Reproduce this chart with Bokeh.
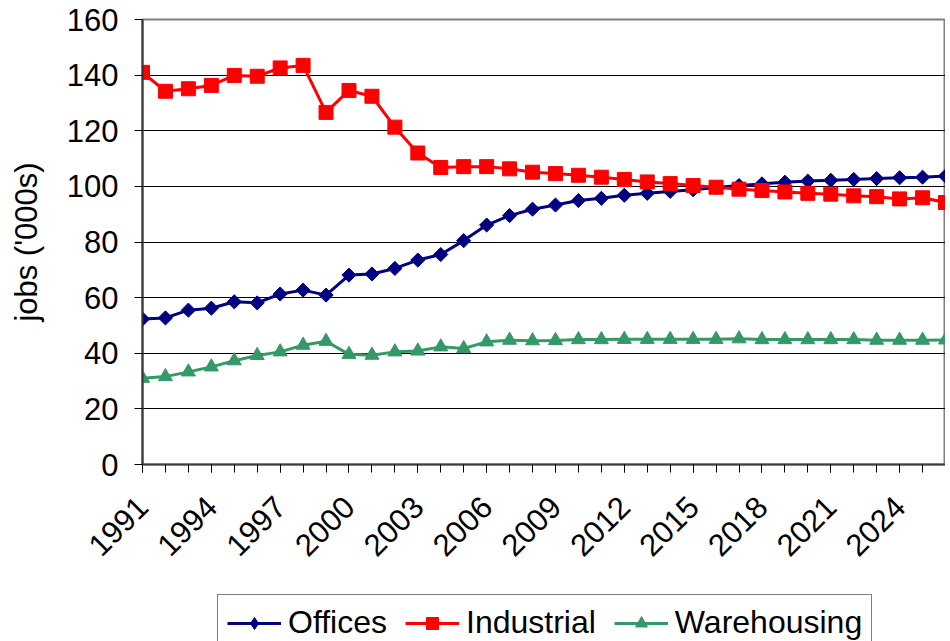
import math
from bokeh.plotting import figure
from bokeh.layouts import column
from bokeh.models import Range1d, FixedTicker, Legend, LegendItem
from bokeh.embed import file_html
from bokeh.resources import INLINE

years = list(range(1991, 2027))
tick_years = list(range(1991, 2027, 3))

offices = [52.3, 52.7, 55.5, 56.2, 58.5, 58.1, 61.3, 62.7, 60.9, 68.1, 68.5, 70.5,
           73.5, 75.5, 80.5, 86.1, 89.5, 91.8, 93.3, 94.9, 95.7, 96.8, 97.5, 98.2,
           98.8, 99.6, 100.3, 100.9, 101.5, 101.9, 102.2, 102.5, 102.8, 103.1, 103.3, 103.7]
industrial = [141.0, 134.2, 135.1, 136.3, 139.9, 139.6, 142.6, 143.5, 126.6, 134.5, 132.4, 121.3,
              112.0, 106.8, 107.1, 107.1, 106.3, 105.1, 104.6, 104.0, 103.3, 102.5, 101.6, 101.0,
              100.3, 99.7, 99.0, 98.5, 98.0, 97.5, 97.2, 96.6, 96.3, 95.5, 95.9, 94.2]
warehousing = [31.0, 31.6, 33.3, 35.1, 37.3, 39.2, 40.5, 42.9, 44.3, 39.6, 39.3, 40.5,
               40.8, 42.3, 41.7, 44.1, 44.7, 44.5, 44.6, 44.9, 44.9, 45.0, 45.0, 45.0,
               45.0, 45.0, 45.2, 44.9, 44.9, 44.9, 44.9, 44.9, 44.7, 44.7, 44.7, 44.8]
series_names = ["Offices", "Industrial", "Warehousing"]
series_values = [offices, industrial, warehousing]
series_colors = ["#000080", "#FF0000", "#339966"]

FONT = "Liberation Sans"

p = figure(width=945, height=594, output_backend="svg", toolbar_location=None,
           x_range=Range1d(1991, 2026), y_range=Range1d(0, 160),
           min_border_left=142, min_border_right=0, min_border_top=19, min_border_bottom=130)
p.background_fill_color = "white"
p.border_fill_color = "white"
p.outline_line_color = "#808080"
p.outline_line_width = 2

# axes
xa = p.xaxis[0]
xa.ticker = FixedTicker(ticks=tick_years, minor_ticks=years)
xa.major_label_orientation = math.pi / 4
xa.major_label_text_font = FONT
xa.major_label_text_font_size = "31px"
xa.major_label_text_color = "black"
xa.major_label_standoff = 29
xa.axis_line_color = "#404040"
xa.axis_line_width = 2
xa.major_tick_in = 0
xa.major_tick_out = 8
xa.minor_tick_in = 0
xa.minor_tick_out = 8
xa.major_tick_line_color = "black"
xa.minor_tick_line_color = "black"

ya = p.yaxis[0]
ya.ticker = FixedTicker(ticks=list(range(0, 161, 20)))
ya.axis_label = "jobs ('000s)"
ya.axis_label_text_font = FONT
ya.axis_label_text_font_size = "31px"
ya.axis_label_text_font_style = "normal"
ya.axis_label_text_color = "black"
ya.axis_label_standoff = 20
ya.major_label_text_font = FONT
ya.major_label_text_font_size = "31px"
ya.major_label_text_color = "black"
ya.major_label_standoff = 16
ya.axis_line_color = "#333333"
ya.axis_line_width = 2
ya.major_tick_in = 0
ya.major_tick_out = 8
ya.minor_tick_line_color = None
ya.major_tick_line_color = "black"

p.xgrid.grid_line_color = None
p.ygrid.grid_line_color = "black"
p.ygrid.grid_line_width = 1

# series
p.line(years, offices, line_color=series_colors[0], line_width=3)
p.scatter(years, offices, marker="square", angle=math.pi / 4, size=10,
          fill_color=series_colors[0], line_color=series_colors[0])
p.line(years, industrial, line_color=series_colors[1], line_width=3)
p.scatter(years, industrial, marker="square", size=14,
          fill_color=series_colors[1], line_color=series_colors[1])
p.line(years, warehousing, line_color=series_colors[2], line_width=3)
p.scatter(years, warehousing, marker="triangle", size=14,
          fill_color=series_colors[2], line_color=series_colors[2])

# legend strip (separate canvas below the chart); proxy renderers use the
# series' first values, which lie outside this strip's ranges (not visible)
lf = figure(width=945, height=55, output_backend="svg", toolbar_location=None,
            x_range=Range1d(0, 1), y_range=Range1d(0, 1),
            x_axis_type=None, y_axis_type=None,
            min_border_left=0, min_border_right=0, min_border_top=0, min_border_bottom=0)
lf.outline_line_color = None
lf.xgrid.grid_line_color = None
lf.ygrid.grid_line_color = None
lf.background_fill_color = "white"
lf.border_fill_color = "white"
markers = [("diamond", 11), ("square", 12), ("triangle", 13)]
items = []
for name, vals, col, (mk, sz) in zip(series_names, series_values, series_colors, markers):
    ln = lf.line(years[:2], vals[:2], line_color=col, line_width=3)
    sc = lf.scatter(years[:1], vals[:1], marker=mk, size=sz,
                    fill_color=col, line_color=col)
    items.append(LegendItem(label=name, renderers=[ln, sc]))

legend = Legend(items=items, orientation="horizontal", location=(75, -2))
legend.label_text_font = FONT
legend.label_text_font_size = "32px"
legend.label_text_color = "black"
legend.glyph_width = 54
legend.glyph_height = 30
legend.label_standoff = 7
legend.spacing = 18
legend.padding = 9
legend.margin = 0
legend.border_line_color = "black"
legend.border_line_width = 1
legend.background_fill_color = "white"
legend.background_fill_alpha = 1
lf.add_layout(legend, "center")

layout = column(p, lf, spacing=0)
open("out.html", "w").write(file_html(layout, INLINE))
